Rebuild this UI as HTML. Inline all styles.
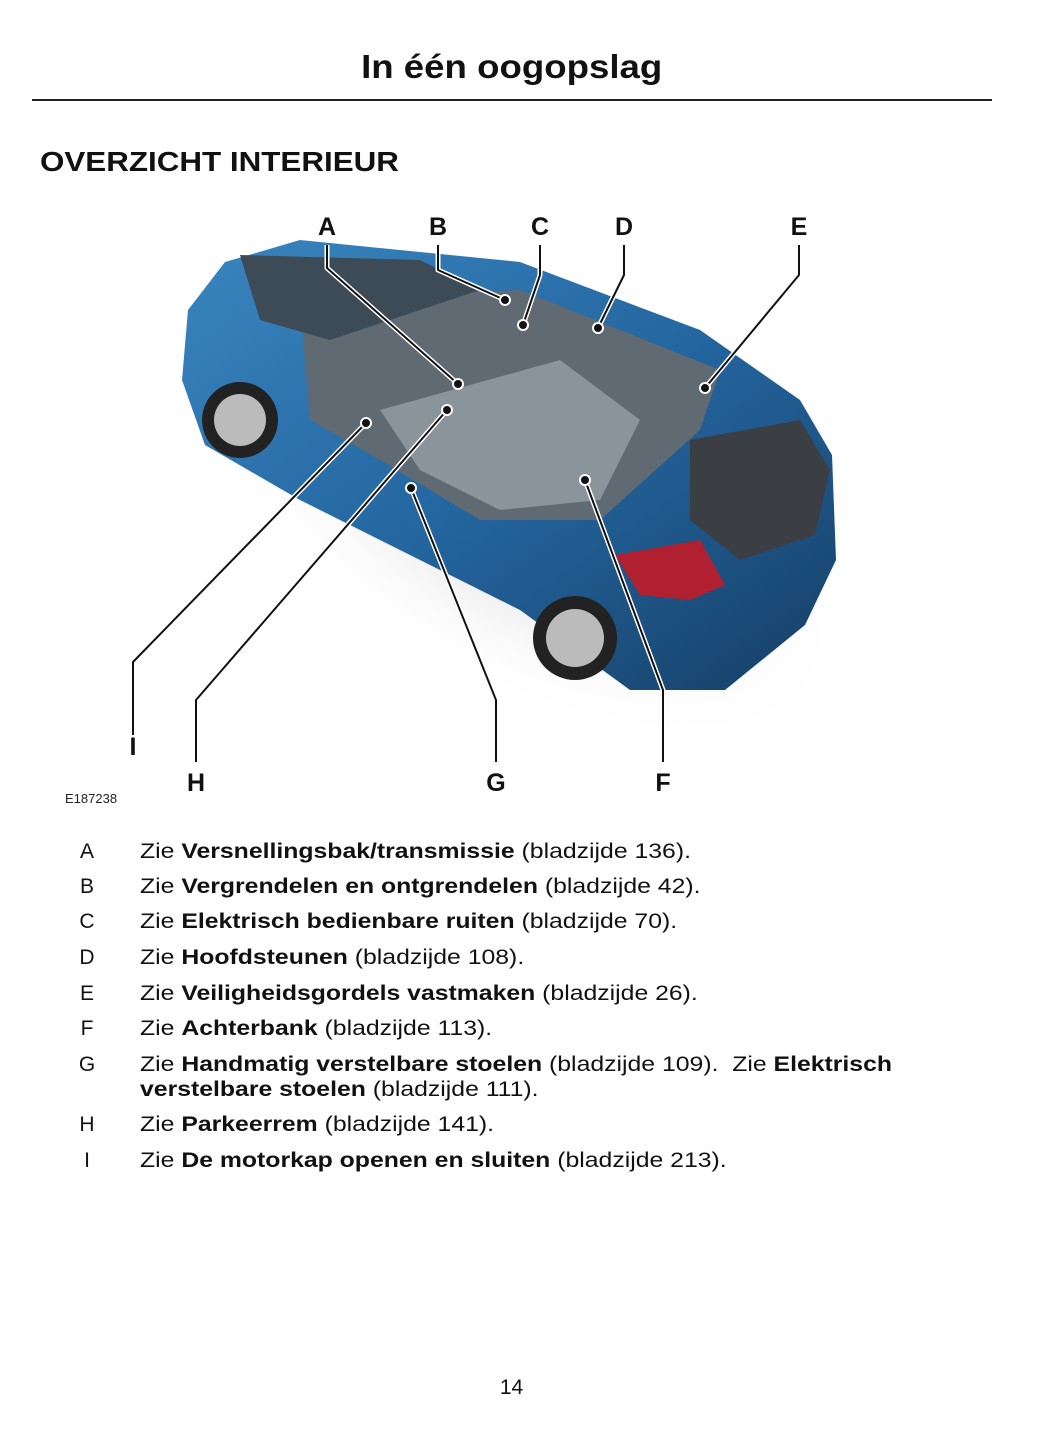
<!DOCTYPE html>
<html><head><meta charset="utf-8"><style>
html,body{margin:0;padding:0;background:#fff}
body{width:1056px;height:1449px;position:relative;font-family:"Liberation Sans",sans-serif;color:#111;overflow:hidden}
.t{position:absolute;white-space:nowrap}
.row{position:absolute;left:0;width:1000px;font-size:21px;line-height:25px}
.row .l{position:absolute;left:78px;width:18px;text-align:center}
.row .x{position:absolute;left:140px;white-space:nowrap;transform:scaleX(1.18);transform-origin:0 0}
b{font-weight:bold}
</style></head><body>
<div class="t" style="left:0;width:1024px;text-align:center;top:48px;font-size:33px;font-weight:bold"><span style="display:inline-block;transform:scaleX(1.11)">In één oogopslag</span></div>
<div style="position:absolute;left:32px;top:99px;width:960px;height:2px;background:#222"></div>
<div class="t" style="left:40px;top:146px;font-size:28px;font-weight:bold;transform:scaleX(1.12);transform-origin:0 0">OVERZICHT INTERIEUR</div>

<svg style="position:absolute;left:0;top:0" width="1056" height="820">
<defs>
<radialGradient id="sh" cx="0.5" cy="0.5" r="0.5"><stop offset="0" stop-color="#999" stop-opacity=".5"/><stop offset="1" stop-color="#fff" stop-opacity="0"/></radialGradient>
<linearGradient id="bd" x1="0" y1="0" x2="1" y2="1"><stop offset="0" stop-color="#3a86c0"/><stop offset=".5" stop-color="#2466a0"/><stop offset="1" stop-color="#163f66"/></linearGradient>
</defs>
<ellipse cx="520" cy="520" rx="360" ry="170" fill="url(#sh)" transform="rotate(28 520 520)"/>
<path d="M188,310 L225,262 L300,240 L520,262 L700,330 L800,400 L832,455 L836,560 L805,625 L725,690 L630,690 L520,610 L300,500 L205,445 L182,380 Z" fill="url(#bd)"/>
<path d="M300,300 L520,290 L720,370 L700,430 L600,520 L480,520 L380,460 L310,420 Z" fill="#5f6a72"/>
<path d="M380,410 L560,360 L640,420 L600,500 L500,510 L420,470 Z" fill="#8a949b"/>
<path d="M240,255 L420,260 L480,290 L330,340 L260,320 Z" fill="#3d4b56"/>
<path d="M690,440 L800,420 L830,470 L815,535 L740,560 L690,520 Z" fill="#3b3f44"/>
<path d="M615,555 L700,540 L725,585 L690,600 L640,595 Z" fill="#b02030"/>
<circle cx="240" cy="420" r="38" fill="#222"/><circle cx="240" cy="420" r="26" fill="#bbb"/>
<circle cx="575" cy="638" r="42" fill="#222"/><circle cx="575" cy="638" r="29" fill="#bbb"/>
<g fill="none" stroke-linejoin="round">
<g stroke="#fff" stroke-width="5">
<path d="M327,245V268L458,384"/><path d="M438,245V270L505,300"/><path d="M540,245V275L523,325"/><path d="M624,245V275L598,328"/><path d="M799,245V275L705,388"/>
<path d="M133,735V662L366,423"/><path d="M196,762V700L447,410"/><path d="M496,762V700L411,488"/><path d="M663,762V690L585,480"/>
</g>
<g stroke="#111" stroke-width="2">
<path d="M327,245V268L458,384"/><path d="M438,245V270L505,300"/><path d="M540,245V275L523,325"/><path d="M624,245V275L598,328"/><path d="M799,245V275L705,388"/>
<path d="M133,735V662L366,423"/><path d="M196,762V700L447,410"/><path d="M496,762V700L411,488"/><path d="M663,762V690L585,480"/>
</g></g>
<g fill="#111" stroke="#fff" stroke-width="2">
<circle cx="458" cy="384" r="5"/><circle cx="505" cy="300" r="5"/><circle cx="523" cy="325" r="5"/><circle cx="598" cy="328" r="5"/><circle cx="705" cy="388" r="5"/><circle cx="366" cy="423" r="5"/><circle cx="447" cy="410" r="5"/><circle cx="411" cy="488" r="5"/><circle cx="585" cy="480" r="5"/>
</g>
<g font-family="Liberation Sans" font-weight="bold" font-size="25" text-anchor="middle" fill="#111">
<text x="327" y="235">A</text><text x="438" y="235">B</text><text x="540" y="235">C</text><text x="624" y="235">D</text><text x="799" y="235">E</text>
<text x="133" y="755">I</text><text x="196" y="791">H</text><text x="496" y="791">G</text><text x="663" y="791">F</text>
</g>
<text x="65" y="803" font-family="Liberation Sans" font-size="13" fill="#222">E187238</text>
</svg>

<div class="row" style="top:839px"><span class="l">A</span><span class="x">Zie <b>Versnellingsbak/transmissie</b> (bladzijde 136).</span></div>
<div class="row" style="top:874px"><span class="l">B</span><span class="x">Zie <b>Vergrendelen en ontgrendelen</b> (bladzijde 42).</span></div>
<div class="row" style="top:909px"><span class="l">C</span><span class="x">Zie <b>Elektrisch bedienbare ruiten</b> (bladzijde 70).</span></div>
<div class="row" style="top:945px"><span class="l">D</span><span class="x">Zie <b>Hoofdsteunen</b> (bladzijde 108).</span></div>
<div class="row" style="top:981px"><span class="l">E</span><span class="x">Zie <b>Veiligheidsgordels vastmaken</b> (bladzijde 26).</span></div>
<div class="row" style="top:1016px"><span class="l">F</span><span class="x">Zie <b>Achterbank</b> (bladzijde 113).</span></div>
<div class="row" style="top:1052px"><span class="l">G</span><span class="x">Zie <b>Handmatig verstelbare stoelen</b> (bladzijde 109).&nbsp; Zie <b>Elektrisch</b><br><b>verstelbare stoelen</b> (bladzijde 111).</span></div>
<div class="row" style="top:1112px"><span class="l">H</span><span class="x">Zie <b>Parkeerrem</b> (bladzijde 141).</span></div>
<div class="row" style="top:1148px"><span class="l">I</span><span class="x">Zie <b>De motorkap openen en sluiten</b> (bladzijde 213).</span></div>

<div class="t" style="left:0;width:1023px;text-align:center;top:1376px;font-size:21px">14</div>
</body></html>
